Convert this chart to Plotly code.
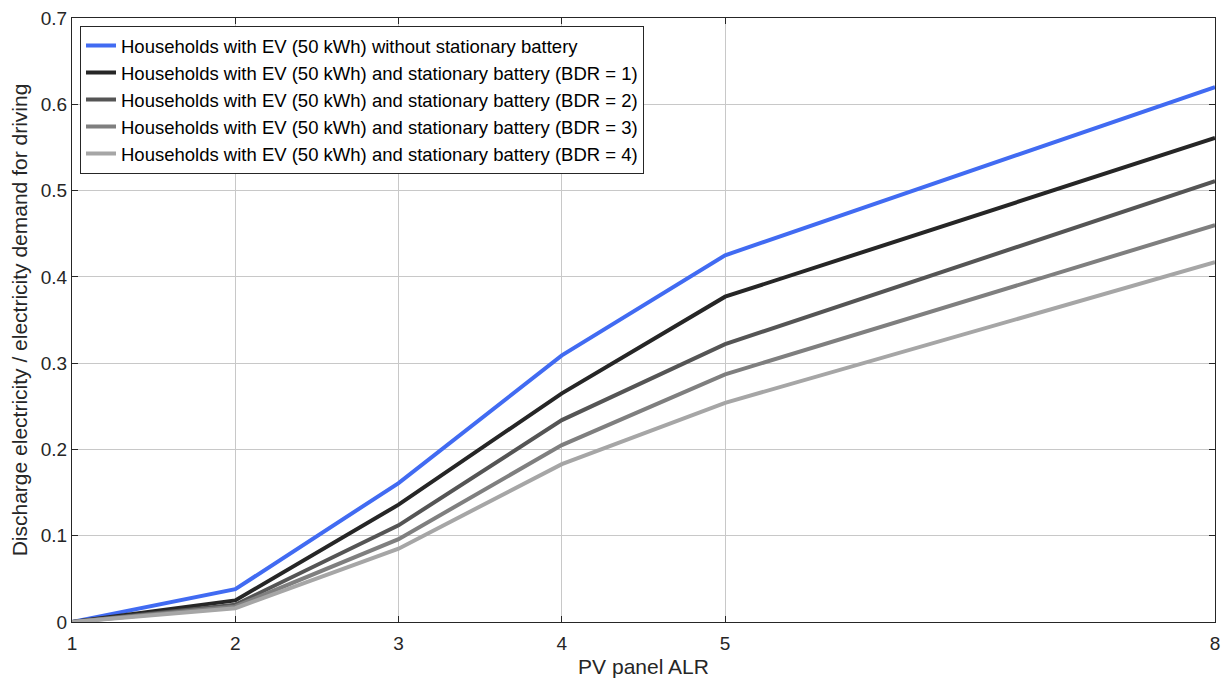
import plotly.graph_objects as go

x_alr = [1, 2, 3, 4, 5, 8]
no_battery = [0, 0.038, 0.161, 0.309, 0.425, 0.62]
bdr1 = [0, 0.025, 0.136, 0.265, 0.377, 0.561]
bdr2 = [0, 0.020, 0.112, 0.234, 0.322, 0.511]
bdr3 = [0, 0.018, 0.096, 0.205, 0.287, 0.46]
bdr4 = [0, 0.016, 0.085, 0.183, 0.254, 0.417]

names = [
    "Households with EV (50 kWh) without stationary battery",
    "Households with EV (50 kWh) and stationary battery (BDR = 1)",
    "Households with EV (50 kWh) and stationary battery (BDR = 2)",
    "Households with EV (50 kWh) and stationary battery (BDR = 3)",
    "Households with EV (50 kWh) and stationary battery (BDR = 4)",
]
series = [no_battery, bdr1, bdr2, bdr3, bdr4]
colors = ["#416BF2", "#262626", "#555555", "#7F7F7F", "#A6A6A6"]

x_ticks = [1, 2, 3, 4, 5, 8]
y_ticks = [0, 0.1, 0.2, 0.3, 0.4, 0.5, 0.6, 0.7]
y_ticktext = ["0", "0.1", "0.2", "0.3", "0.4", "0.5", "0.6", "0.7"]

fig = go.Figure()
for name, ys, c in zip(names, series, colors):
    fig.add_trace(go.Scatter(x=x_alr, y=ys, mode="lines", name=name,
                             line=dict(color=c, width=4)))

font_family = "Liberation Sans, Arial, sans-serif"
fig.update_layout(
    width=1228, height=682,
    margin=dict(l=72, r=8, t=17, b=60),
    paper_bgcolor="white", plot_bgcolor="white",
    font=dict(family=font_family, size=19, color="#262626"),
    showlegend=True,
    legend=dict(x=0.007, y=0.987, xanchor="left", yanchor="top",
                bgcolor="white", bordercolor="#262626", borderwidth=1,
                font=dict(size=18.5, color="#000000"),
                tracegroupgap=0, itemwidth=30),
    xaxis=dict(range=[1, 8], tickvals=x_ticks, ticktext=[str(v) for v in x_ticks],
               showgrid=True, gridcolor="#C8C8C8", gridwidth=1,
               showline=True, linecolor="#262626", linewidth=1, mirror="ticks",
               ticks="inside", ticklen=6, tickcolor="#262626",
               zeroline=False, ticklabelstandoff=4,
               title=dict(text="PV panel ALR", font=dict(size=21), standoff=6),
               tickfont=dict(size=19)),
    yaxis=dict(range=[0, 0.7], tickvals=y_ticks, ticktext=y_ticktext,
               showgrid=True, gridcolor="#C8C8C8", gridwidth=1,
               showline=True, linecolor="#262626", linewidth=1, mirror="ticks",
               ticks="inside", ticklen=6, tickcolor="#262626",
               zeroline=False,
               title=dict(text="Discharge electricity / electricity demand for driving",
                          font=dict(size=21), standoff=7),
               tickfont=dict(size=19)),
)

fig.write_html("out.html", config={"displayModeBar": False},
               post_script="document.body.style.margin='0';")
